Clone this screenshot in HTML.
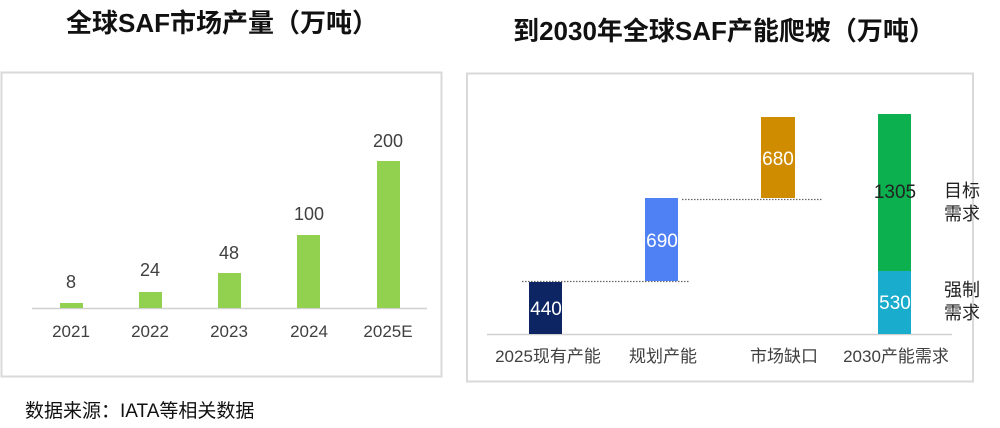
<!DOCTYPE html>
<html><head><meta charset="utf-8"><style>
body{margin:0;width:1000px;height:423px;background:#fff;overflow:hidden;font-family:"Liberation Sans","Noto Sans CJK SC",sans-serif;}
</style></head><body>
<svg width="1000" height="423" xmlns="http://www.w3.org/2000/svg" style="font-family:'Liberation Sans','Noto Sans CJK SC',sans-serif">
<text x="222" y="32" font-size="26" font-weight="bold" text-anchor="middle" fill="#111">全球SAF市场产量（万吨）</text>
<text x="724" y="40" font-size="26" font-weight="bold" text-anchor="middle" fill="#111">到2030年全球SAF产能爬坡（万吨）</text>
<rect x="1.5" y="72.5" width="440" height="304" fill="none" stroke="#d9d9d9" stroke-width="2"/>
<line x1="32" y1="308.5" x2="427" y2="308.5" stroke="#d0d0d0" stroke-width="1.5"/>
<g fill="#92d050">
<rect x="60" y="303" width="23" height="5"/>
<rect x="139" y="292" width="23" height="16"/>
<rect x="218" y="273" width="23" height="35"/>
<rect x="297" y="235" width="23" height="73"/>
<rect x="377" y="161" width="23" height="147"/>
</g>
<g font-size="18" fill="#404040" text-anchor="middle">
<text x="71" y="288">8</text><text x="150" y="276">24</text><text x="229" y="259">48</text><text x="309" y="220">100</text><text x="388" y="147">200</text>
</g>
<g font-size="17" fill="#404040" text-anchor="middle">
<text x="71" y="337">2021</text><text x="150" y="337">2022</text><text x="229" y="337">2023</text><text x="309" y="337">2024</text><text x="388" y="337">2025E</text>
</g>
<rect x="467" y="73.5" width="506" height="308" fill="none" stroke="#d9d9d9" stroke-width="2"/>
<line x1="487" y1="334.5" x2="952" y2="334.5" stroke="#d0d0d0" stroke-width="1.5"/>
<g stroke="#666" stroke-width="1.2" stroke-dasharray="1.5,1.5">
<line x1="522" y1="281.5" x2="690" y2="281.5"/>
<line x1="682" y1="199.5" x2="822" y2="199.5"/>
</g>
<rect x="529" y="282" width="33" height="52" fill="#0d2663"/>
<rect x="645" y="198" width="33" height="83" fill="#4f81f5"/>
<rect x="761" y="117" width="34" height="81" fill="#d08c00"/>
<rect x="878" y="114" width="33" height="157" fill="#0cb04f"/>
<rect x="878" y="271" width="33" height="63" fill="#1aaccc"/>
<g font-size="19" text-anchor="middle">
<text x="546" y="315" fill="#fff">440</text>
<text x="662" y="247" fill="#fff">690</text>
<text x="778" y="165" fill="#fff">680</text>
<text x="895" y="198" fill="#222">1305</text>
<text x="895" y="309" fill="#fff">530</text>
</g>
<g font-size="18" fill="#222">
<text x="944" y="197">目标</text><text x="944" y="220">需求</text>
<text x="944" y="296">强制</text><text x="944" y="319">需求</text>
</g>
<g font-size="17" fill="#404040" text-anchor="middle">
<text x="548" y="362">2025现有产能</text><text x="663" y="362">规划产能</text><text x="784" y="362">市场缺口</text><text x="896" y="362">2030产能需求</text>
</g>
<text x="25" y="417" font-size="19" fill="#111">数据来源：IATA等相关数据</text>
</svg>
</body></html>
